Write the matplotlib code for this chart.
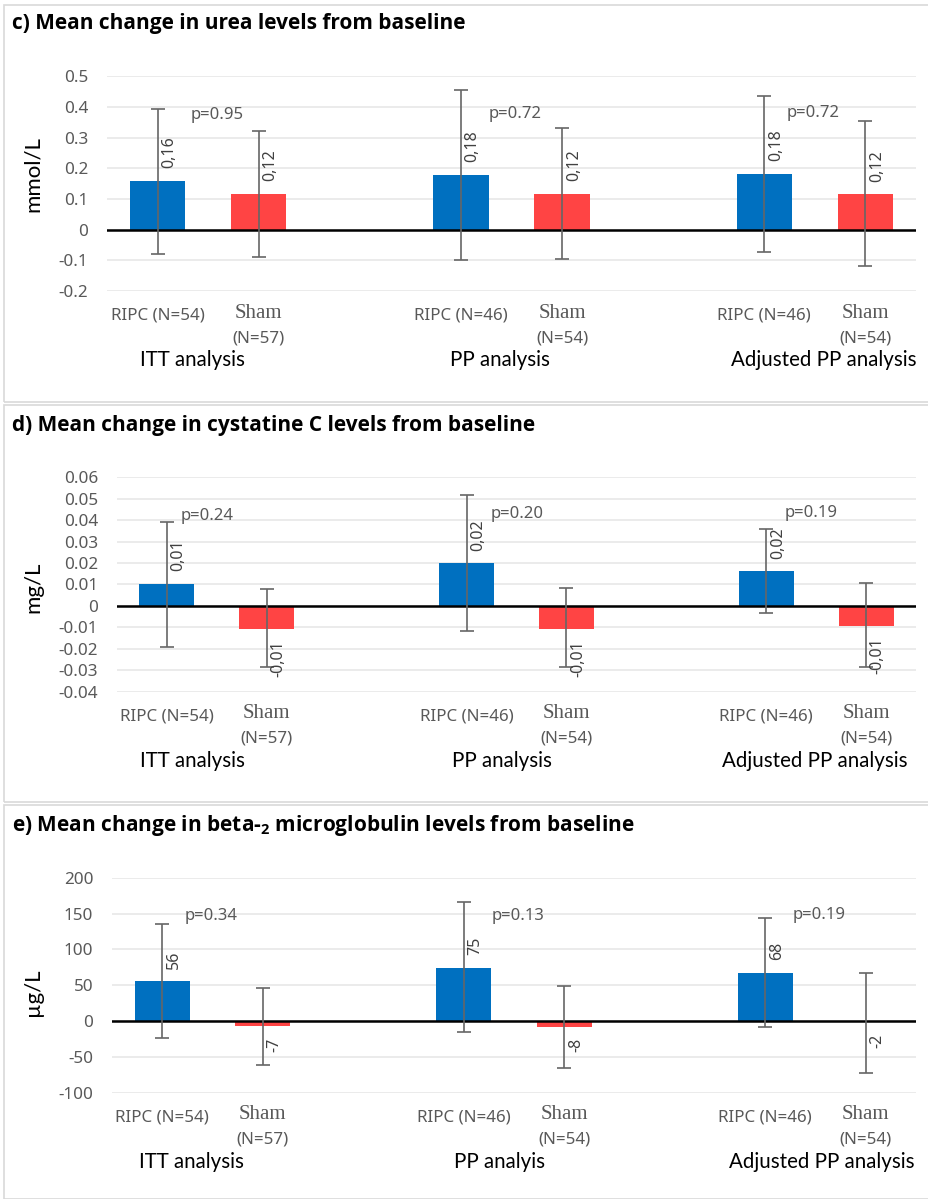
import numpy as np
import matplotlib.pyplot as plt
from matplotlib.patches import Rectangle

W, H = 929, 1199

# ---- data ----
ripc_names = ["RIPC (N=54)", "RIPC (N=46)", "RIPC (N=46)"]
sham_names = ["(N=57)", "(N=54)", "(N=54)"]

titles = ["c) Mean change in urea levels from baseline",
          "d) Mean change in cystatine C levels from baseline",
          r"e) Mean change in beta-$_\mathregular{2}$ microglobulin levels from baseline"]
units = ["mmol/L", "mg/L", "\u00b5g/L"]
group_names = [["ITT analysis", "PP analysis", "Adjusted PP analysis"],
               ["ITT analysis", "PP analysis", "Adjusted PP analysis"],
               ["ITT analysis", "PP analyis", "Adjusted PP analysis"]]

# urea (mmol/L)
urea_ripc = [0.16, 0.179, 0.182]
urea_sham = [0.117, 0.117, 0.116]
urea_ripc_lo = [-0.079, -0.099, -0.073]
urea_ripc_hi = [0.394, 0.455, 0.435]
urea_sham_lo = [-0.088, -0.097, -0.117]
urea_sham_hi = [0.322, 0.333, 0.353]
urea_ripc_lab = ["0,16", "0,18", "0,18"]
urea_sham_lab = ["0,12", "0,12", "0,12"]
urea_p = ["p=0.95", "p=0.72", "p=0.72"]
urea_ticks = [-0.2, -0.1, 0, 0.1, 0.2, 0.3, 0.4, 0.5]
urea_ticklabels = ["-0.2", "-0.1", "0", "0.1", "0.2", "0.3", "0.4", "0.5"]

# cystatin C (mg/L)
cys_ripc = [0.0103, 0.0199, 0.0162]
cys_sham = [-0.0106, -0.0106, -0.0092]
cys_ripc_lo = [-0.0193, -0.0115, -0.0034]
cys_ripc_hi = [0.0392, 0.0518, 0.0358]
cys_sham_lo = [-0.0283, -0.0286, -0.0283]
cys_sham_hi = [0.0081, 0.0085, 0.0109]
cys_ripc_lab = ["0,01", "0,02", "0,02"]
cys_sham_lab = ["-0,01", "-0,01", "-0,01"]
cys_p = ["p=0.24", "p=0.20", "p=0.19"]
cys_ticks = [-0.04, -0.03, -0.02, -0.01, 0, 0.01, 0.02, 0.03, 0.04, 0.05, 0.06]
cys_ticklabels = ["-0.04", "-0.03", "-0.02", "-0.01", "0", "0.01", "0.02",
                  "0.03", "0.04", "0.05", "0.06"]

# beta-2 microglobulin (ug/L)
b2m_ripc = [55.5, 74.6, 67.7]
b2m_sham = [-7.5, -8.5, -2]
b2m_ripc_lo = [-23.3, -15.8, -8.8]
b2m_ripc_hi = [134.8, 166.4, 144]
b2m_sham_lo = [-62, -65.7, -72.7]
b2m_sham_hi = [46.7, 49, 67.7]
b2m_ripc_lab = ["56", "75", "68"]
b2m_sham_lab = ["-7", "-8", "-2"]
b2m_p = ["p=0.34", "p=0.13", "p=0.19"]
b2m_ticks = [-100, -50, 0, 50, 100, 150, 200]
b2m_ticklabels = ["-100", "-50", "0", "50", "100", "150", "200"]

panels = [
    dict(ripc=urea_ripc, sham=urea_sham, rlo=urea_ripc_lo, rhi=urea_ripc_hi,
         slo=urea_sham_lo, shi=urea_sham_hi, rlab=urea_ripc_lab, slab=urea_sham_lab,
         p=urea_p, ticks=urea_ticks, ticklabels=urea_ticklabels),
    dict(ripc=cys_ripc, sham=cys_sham, rlo=cys_ripc_lo, rhi=cys_ripc_hi,
         slo=cys_sham_lo, shi=cys_sham_hi, rlab=cys_ripc_lab, slab=cys_sham_lab,
         p=cys_p, ticks=cys_ticks, ticklabels=cys_ticklabels),
    dict(ripc=b2m_ripc, sham=b2m_sham, rlo=b2m_ripc_lo, rhi=b2m_ripc_hi,
         slo=b2m_sham_lo, shi=b2m_sham_hi, rlab=b2m_ripc_lab, slab=b2m_sham_lab,
         p=b2m_p, ticks=b2m_ticks, ticklabels=b2m_ticklabels),
]

# ---- layout (pixels) ----
# axes: left, right, y of top tick, y of bottom tick
ax_px = [(107, 916, 76.3, 291), (117, 916, 477.3, 691.7), (112, 916, 877.7, 1092.7)]
box_px = [(4, 5, 402), (4, 405, 802), (4, 805, 1199)]
title_px = [(12, 23), (12, 425), (12, 826)]
ylab_px = [(33, 174), (33, 587), (33, 992)]
# p-value text: x in slot units, y in data units
p_x = [[0.33, 3.27, 6.22], [0.14, 3.24, 6.18], [0.22, 3.28, 6.27]]
p_y = [[0.373, 0.376, 0.381], [0.0421, 0.0429, 0.0432], [147, 147, 148]]
group_x = [[0.34, 3.39, 6.59], [0.26, 3.35, 6.49], [0.29, 3.36, 6.56]]

BLUE = "#0070C0"
RED = "#FF4444"
GREY = "#595959"
ERR = "#666666"

plt.rcParams['font.family'] = ['Noto Sans', 'DejaVu Sans']
plt.rcParams['mathtext.fontset'] = 'custom'
plt.rcParams['mathtext.rm'] = 'Open Sans'

fig = plt.figure(figsize=(W / 100, H / 100), dpi=100)

def fx(x):
    return x / W

def fy(y):
    return 1 - y / H

xpos_r = np.array([0, 3, 6])
xpos_s = np.array([1, 4, 7])

for i, d in enumerate(panels):
    bx, btop, bbot = box_px[i]
    fig.patches.append(Rectangle((fx(bx), fy(bbot)), fx(W + 10 - bx), fy(btop) - fy(bbot),
                                 transform=fig.transFigure, fill=False,
                                 edgecolor="#d9d9d9", linewidth=1.2))
    tx, ty = title_px[i]
    fig.text(fx(tx), fy(ty), titles[i], fontsize=15, fontweight="bold",
             family="Open Sans", ha="left", va="center", color="black")

    l, r, yt, yb = ax_px[i]
    ax = fig.add_axes([fx(l), fy(yb), fx(r - l), fy(yt) - fy(yb)])
    ax.set_xlim(-0.5, 7.5)
    ax.set_ylim(d["ticks"][0], d["ticks"][-1])
    ax.set_yticks(d["ticks"])
    ax.set_yticklabels(d["ticklabels"])
    ax.tick_params(axis="y", length=0, pad=13.5, labelsize=12.3, labelcolor=GREY)
    ax.set_xticks([])
    for s in ax.spines.values():
        s.set_visible(False)
    ax.grid(axis="y", color="#e6e6e6", linewidth=1.1)
    ax.set_axisbelow(True)

    ripc = np.array(d["ripc"])
    sham = np.array(d["sham"])
    ax.bar(xpos_r, ripc, width=0.55, color=BLUE, zorder=2)
    ax.bar(xpos_s, sham, width=0.55, color=RED, zorder=2)
    ax.axhline(0, color="black", linewidth=1.8, zorder=3)

    rerr = [ripc - np.array(d["rlo"]), np.array(d["rhi"]) - ripc]
    serr = [sham - np.array(d["slo"]), np.array(d["shi"]) - sham]
    for xp, yv, err in [(xpos_r, ripc, rerr), (xpos_s, sham, serr)]:
        ax.errorbar(xp, yv, yerr=err, fmt="none", ecolor=ERR, elinewidth=1.2,
                    capsize=5, capthick=1.2, zorder=4)

    for xp, vals, labs in [(xpos_r, ripc, d["rlab"]), (xpos_s, sham, d["slab"])]:
        for x, v, lab in zip(xp, vals, labs):
            if v >= 0:
                ax.annotate(lab, (x, v), xytext=(8.5, 9), textcoords="offset points",
                            rotation=90, ha="center", va="bottom", fontsize=11.5,
                            color="#404040", zorder=5)
            else:
                ax.annotate(lab, (x, v), xytext=(8.5, -8), textcoords="offset points",
                            rotation=90, ha="center", va="top", fontsize=11.5,
                            color="#404040", zorder=5)

    for j in range(3):
        ax.text(p_x[i][j], p_y[i][j], d["p"][j], fontsize=12, color=GREY,
                ha="left", va="center", zorder=5)

    trans = ax.get_xaxis_transform()
    for j in range(3):
        ax.annotate(ripc_names[j], (xpos_r[j], 0), xycoords=trans, xytext=(0, -17.5),
                    textcoords="offset points", ha="center", va="center",
                    fontsize=12.2, color=GREY)
        ax.annotate("Sham", (xpos_s[j], 0), xycoords=trans, xytext=(0, -16),
                    textcoords="offset points", ha="center", va="center",
                    fontsize=15, color=GREY, family="Liberation Serif")
        ax.annotate(sham_names[j], (xpos_s[j], 0), xycoords=trans, xytext=(0, -34),
                    textcoords="offset points", ha="center", va="center",
                    fontsize=12.2, color=GREY)
        ax.annotate(group_names[i][j], (group_x[i][j], 0), xycoords=trans,
                    xytext=(0, -50), textcoords="offset points", ha="center",
                    va="center", fontsize=14.8, color="black", family="Lato")

    lx, ly = ylab_px[i]
    fig.text(fx(lx), fy(ly), units[i], rotation=90, fontsize=16,
             ha="center", va="center", family="Lato", color="black")

fig.savefig("out.png", dpi=100)
